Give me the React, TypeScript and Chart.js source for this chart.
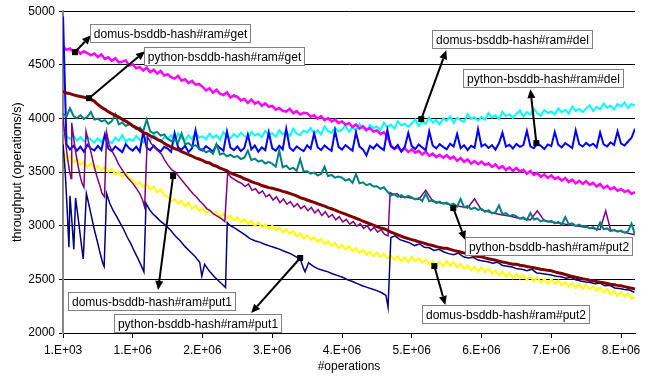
import React, { useEffect, useRef } from 'react';
import { Chart, registerables } from 'chart.js';

Chart.register(...registerables);

// #operations, in millions (first category is 1.E+03)
const OPS = [
  0.001, 0.05, 0.1, 0.15, 0.2, 0.25, 0.3, 0.35, 0.4, 0.45,
  0.5, 0.55, 0.6, 0.65, 0.7, 0.75, 0.8, 0.85, 0.9, 0.95,
  1, 1.05, 1.1, 1.15, 1.2, 1.25, 1.3, 1.35, 1.4, 1.45,
  1.5, 1.55, 1.6, 1.65, 1.7, 1.75, 1.8, 1.85, 1.9, 1.95,
  2, 2.05, 2.1, 2.15, 2.2, 2.25, 2.3, 2.35, 2.4, 2.45,
  2.5, 2.55, 2.6, 2.65, 2.7, 2.75, 2.8, 2.85, 2.9, 2.95,
  3, 3.05, 3.1, 3.15, 3.2, 3.25, 3.3, 3.35, 3.4, 3.45,
  3.5, 3.55, 3.6, 3.65, 3.7, 3.75, 3.8, 3.85, 3.9, 3.95,
  4, 4.05, 4.1, 4.15, 4.2, 4.25, 4.3, 4.35, 4.4, 4.45,
  4.5, 4.55, 4.6, 4.65, 4.7, 4.75, 4.8, 4.85, 4.9, 4.95,
  5, 5.05, 5.1, 5.15, 5.2, 5.25, 5.3, 5.35, 5.4, 5.45,
  5.5, 5.55, 5.6, 5.65, 5.7, 5.75, 5.8, 5.85, 5.9, 5.95,
  6, 6.05, 6.1, 6.15, 6.2, 6.25, 6.3, 6.35, 6.4, 6.45,
  6.5, 6.55, 6.6, 6.65, 6.7, 6.75, 6.8, 6.85, 6.9, 6.95,
  7, 7.05, 7.1, 7.15, 7.2, 7.25, 7.3, 7.35, 7.4, 7.45,
  7.5, 7.55, 7.6, 7.65, 7.7, 7.75, 7.8, 7.85, 7.9, 7.95,
  8, 8.05, 8.1, 8.15, 8.2,
];

const X_TICKS = [0.001, 1, 2, 3, 4, 5, 6, 7, 8];
const X_MIN = 0;
const X_MAX = 8.2;
const Y_MIN = 2000;
const Y_MAX = 5000;
const Y_STEP = 500;

// domus-bsddb-hash#ram#get (magenta)
const DOMUS_GET = [
  4668, 4640, 4652, 4618, 4641, 4603, 4626, 4610, 4588, 4606,
  4572, 4596, 4555, 4570, 4538, 4561, 4522, 4530, 4541, 4494,
  4503, 4468, 4481, 4447, 4475, 4430, 4455, 4419, 4442, 4400,
  4412, 4385, 4371, 4398, 4352, 4366, 4330, 4351, 4315, 4322,
  4296, 4262, 4281, 4240, 4268, 4231, 4219, 4243, 4195, 4214,
  4201, 4168, 4182, 4145, 4177, 4139, 4156, 4118, 4140, 4109,
  4118, 4082, 4097, 4071, 4063, 4090, 4048, 4069, 4036, 4052,
  4050, 4018, 4031, 3998, 4022, 3985, 4004, 3972, 3990, 3958,
  3972, 3941, 3958, 3920, 3944, 3905, 3928, 3893, 3910, 3878,
  3888, 3856, 3872, 3832, 3750, 3716, 3734, 3698, 3722, 3686,
  3712, 3681, 3698, 3664, 3690, 3651, 3672, 3640, 3661, 3634,
  3658, 3626, 3644, 3605, 3632, 3596, 3618, 3580, 3603, 3574,
  3598, 3566, 3582, 3548, 3571, 3535, 3556, 3520, 3544, 3510,
  3538, 3506, 3522, 3485, 3510, 3474, 3493, 3455, 3478, 3446,
  3470, 3436, 3452, 3420, 3446, 3408, 3430, 3396, 3418, 3390,
  3416, 3382, 3401, 3365, 3389, 3350, 3372, 3340, 3358, 3326,
  3342, 3316, 3328, 3298, 3312,
];

// domus-bsddb-hash#ram#del (cyan)
const DOMUS_DEL = [
  3880, 3835, 3810, 3842, 3795, 3825, 3788, 3830, 3802, 3776,
  3815, 3780, 3830, 3795, 3768, 3822, 3790, 3845, 3782, 3810,
  3790, 3835, 3802, 3776, 3828, 3795, 3850, 3808, 3783, 3826,
  3812, 3845, 3790, 3860, 3815, 3798, 3842, 3805, 3870, 3822,
  3836, 3805, 3858, 3820, 3845, 3800, 3872, 3830, 3815, 3855,
  3825, 3868, 3838, 3812, 3875, 3842, 3860, 3825, 3885, 3848,
  3862, 3830, 3890, 3852, 3875, 3838, 3905, 3860, 3845, 3888,
  3870, 3912, 3858, 3890, 3850, 3925, 3882, 3866, 3915, 3878,
  3898, 3935, 3875, 3920, 3888, 3950, 3905, 3882, 3938, 3910,
  3925, 3890, 3960, 3918, 3942, 3905, 3975, 3935, 3952, 3920,
  3955, 3990, 3930, 3972, 3948, 4010, 3962, 3985, 3945, 4002,
  3978, 4020, 3960, 4005, 3985, 3968, 4040, 3995, 4012, 3980,
  4015, 3988, 4050, 4008, 4030, 3995, 4062, 4022, 4040, 4005,
  4042, 4075, 4018, 4060, 4035, 4090, 4048, 4025, 4078, 4052,
  4065, 4038, 4095, 4058, 4080, 4045, 4110, 4070, 4088, 4060,
  4092, 4125, 4070, 4108, 4085, 4140, 4098, 4120, 4082, 4135,
  4112, 4150, 4098, 4135, 4118,
];

// python-bsddb-hash#ram#del (blue)
const PYTHON_DEL = [
  4950, 3760, 3712, 3745, 3700, 3738, 3690, 3755, 3720, 3702,
  3745, 3706, 3850, 3718, 3695, 3740, 3712, 3686, 3760, 3722,
  3700, 3738, 3690, 3875, 3725, 3705, 3748, 3714, 3692, 3736,
  3720, 3690, 3862, 3730, 3708, 3745, 3686, 3722, 3890, 3715,
  3702, 3742, 3718, 3690, 3756, 3725, 3700, 3880, 3728, 3705,
  3740, 3696, 3725, 3850, 3712, 3748, 3690, 3730, 3705, 3872,
  3722, 3700, 3745, 3712, 3905, 3728, 3698, 3740, 3715, 3695,
  3750, 3718, 3860, 3732, 3705, 3748, 3720, 3698, 3885, 3735,
  3710, 3752, 3725, 3700, 3870, 3738, 3712, 3655, 3745, 3720,
  3760, 3728, 3705, 3892, 3740, 3718, 3752, 3690, 3735, 3865,
  3742, 3715, 3758, 3730, 3705, 3880, 3748, 3722, 3760, 3735,
  3712, 3765, 3738, 3855, 3722, 3750, 3705, 3745, 3728, 3900,
  3740, 3760, 3725, 3752, 3710, 3768, 3868, 3738, 3755, 3720,
  3762, 3735, 3752, 3885, 3740, 3722, 3768, 3745, 3715, 3758,
  3742, 3875, 3756, 3730, 3770, 3748, 3725, 3890, 3760, 3738,
  3772, 3745, 3765, 3730, 3870, 3758, 3740, 3778, 3752, 3880,
  3765, 3748, 3785, 3820, 3905,
];

// python-bsddb-hash#ram#put2 (teal)
const PYTHON_PUT2 = [
  4045, 4018, 4095, 4025, 4002, 4030, 3995, 4015, 4060, 3990,
  3998, 3972, 3985, 3950, 3975, 4040, 3945, 3962, 3930, 3948,
  3925, 3900, 3915, 3880, 3990, 3878, 3862, 3875, 3840, 3852,
  3812, 3790, 3805, 3775, 3860, 3760, 3770, 3738, 3752, 3720,
  3712, 3685, 3698, 3670, 3760, 3665, 3675, 3648, 3662, 3640,
  3650, 3622, 3635, 3700, 3612, 3625, 3598, 3610, 3580, 3595,
  3578, 3550, 3700, 3545, 3560, 3528, 3540, 3512, 3620, 3505,
  3508, 3485, 3495, 3470, 3482, 3550, 3462, 3474, 3448, 3458,
  3448, 3420, 3435, 3400, 3480, 3395, 3405, 3378, 3390, 3365,
  3368, 3345, 3360, 3318, 3282, 3295, 3270, 3285, 3262, 3278,
  3265, 3245, 3258, 3230, 3300, 3228, 3238, 3212, 3225, 3205,
  3215, 3192, 3205, 3178, 3250, 3172, 3182, 3155, 3168, 3148,
  3158, 3130, 3145, 3115, 3125, 3190, 3108, 3118, 3090, 3102,
  3088, 3065, 3078, 3052, 3120, 3058, 3068, 3040, 3052, 3038,
  3045, 3022, 3035, 3010, 3080, 3015, 3022, 2998, 3010, 2992,
  2998, 2975, 2988, 2962, 3030, 2968, 2975, 2950, 2962, 2945,
  2955, 2935, 2948, 3020, 2915,
];

// python-bsddb-hash#ram#get (dark red)
const PYTHON_GET = [
  4252, 4238, 4232, 4220, 4212, 4205, 4198, 4190, 4180, 4160,
  4130, 4105, 4085, 4062, 4045, 4028, 4012, 3992, 3975, 3955,
  3932, 3915, 3892, 3868, 3858, 3838, 3825, 3805, 3792, 3770,
  3748, 3735, 3718, 3708, 3690, 3678, 3662, 3650, 3632, 3622,
  3610, 3592, 3585, 3565, 3555, 3538, 3525, 3512, 3492, 3480,
  3468, 3455, 3438, 3428, 3412, 3400, 3390, 3375, 3366, 3355,
  3350, 3340, 3332, 3320, 3312, 3302, 3290, 3278, 3262, 3252,
  3240, 3228, 3218, 3205, 3195, 3182, 3168, 3158, 3145, 3132,
  3120, 3108, 3095, 3082, 3070, 3058, 3042, 3030, 3018, 3005,
  2992, 2980, 2972, 2958, 2940, 2928, 2915, 2902, 2890, 2880,
  2870, 2862, 2850, 2842, 2832, 2822, 2815, 2805, 2798, 2790,
  2790, 2780, 2770, 2762, 2755, 2745, 2738, 2728, 2720, 2712,
  2710, 2700, 2692, 2686, 2678, 2670, 2662, 2656, 2648, 2642,
  2640, 2632, 2628, 2620, 2614, 2608, 2602, 2595, 2590, 2584,
  2580, 2570, 2562, 2555, 2545, 2536, 2528, 2520, 2512, 2505,
  2500, 2492, 2488, 2480, 2474, 2468, 2462, 2455, 2450, 2444,
  2440, 2432, 2425, 2418, 2410,
];

// domus-bsddb-hash#ram#put2 (yellow)
const DOMUS_PUT2 = [
  3700, 3610, 3655, 3590, 3625, 3570, 3598, 3545, 3585, 3530,
  3560, 3515, 3548, 3500, 3530, 3478, 3505, 3455, 3490, 3442,
  3425, 3382, 3410, 3360, 3390, 3335, 3365, 3312, 3340, 3285,
  3272, 3228, 3250, 3205, 3232, 3180, 3215, 3158, 3190, 3140,
  3162, 3118, 3145, 3100, 3128, 3082, 3110, 3065, 3095, 3048,
  3078, 3032, 3062, 3015, 3048, 3000, 3030, 2985, 3012, 2968,
  3002, 2958, 2985, 2940, 2968, 2922, 2950, 2898, 2930, 2880,
  2912, 2868, 2895, 2848, 2878, 2830, 2858, 2812, 2840, 2790,
  2822, 2778, 2808, 2762, 2790, 2745, 2775, 2730, 2760, 2715,
  2752, 2708, 2738, 2695, 2722, 2680, 2715, 2668, 2705, 2660,
  2712, 2668, 2698, 2652, 2685, 2640, 2672, 2628, 2662, 2620,
  2672, 2628, 2660, 2612, 2645, 2598, 2632, 2585, 2618, 2570,
  2612, 2568, 2600, 2552, 2585, 2538, 2572, 2525, 2560, 2512,
  2552, 2508, 2540, 2495, 2528, 2482, 2518, 2470, 2505, 2460,
  2502, 2458, 2490, 2445, 2478, 2432, 2468, 2420, 2455, 2410,
  2452, 2408, 2438, 2392, 2425, 2378, 2410, 2362, 2395, 2345,
  2382, 2338, 2368, 2320, 2335,
];

// python-bsddb-hash#ram#put1 (navy): [#operations (millions), throughput]
const PYTHON_PUT1: [number, number][] = [
  [0.001, 3760], [0.03, 3520], [0.06, 3150], [0.085, 2800], [0.1, 3280], [0.13, 3020],
  [0.155, 2780], [0.18, 3260], [0.21, 3110], [0.24, 2950], [0.27, 2790], [0.29, 2690],
  [0.335, 3300], [0.37, 3200], [0.41, 3080], [0.45, 2960], [0.49, 2860], [0.53, 2750],
  [0.57, 2650], [0.59, 2620], [0.625, 3300], [0.67, 3210], [0.72, 3140], [0.77, 3085],
  [0.82, 3025], [0.87, 2965], [0.92, 2895], [0.97, 2835], [1.02, 2765], [1.07, 2700],
  [1.12, 2630], [1.16, 2570], [1.19, 3210], [1.24, 3150], [1.29, 3110], [1.34, 3080],
  [1.4, 3040], [1.46, 3010], [1.54, 2960], [1.61, 2905], [1.68, 2860], [1.75, 2805],
  [1.82, 2760], [1.89, 2715], [1.96, 2660], [1.99, 2530], [2.03, 2640], [2.1, 2575],
  [2.17, 2525], [2.24, 2480], [2.29, 2450], [2.33, 2425], [2.355, 3030], [2.4, 3000],
  [2.47, 2975], [2.54, 2945], [2.61, 2915], [2.68, 2880], [2.75, 2860], [2.83, 2845],
  [2.9, 2825], [2.97, 2810], [3.04, 2795], [3.11, 2780], [3.18, 2760], [3.26, 2740],
  [3.33, 2715], [3.4, 2690], [3.45, 2600], [3.47, 2570], [3.52, 2655], [3.58, 2625],
  [3.65, 2600], [3.72, 2585], [3.8, 2570], [3.87, 2550], [3.94, 2535], [4.01, 2520],
  [4.08, 2495], [4.15, 2480], [4.22, 2460], [4.29, 2440], [4.36, 2425], [4.43, 2410],
  [4.5, 2395], [4.57, 2375], [4.63, 2350], [4.66, 2240], [4.7, 2890], [4.76, 2905],
  [4.83, 2870], [4.9, 2855], [4.97, 2840], [5.04, 2815], [5.11, 2830], [5.18, 2800],
  [5.25, 2795], [5.32, 2770], [5.39, 2780], [5.46, 2755], [5.53, 2740], [5.6, 2730],
  [5.67, 2745], [5.74, 2710], [5.81, 2700], [5.88, 2705], [5.95, 2680], [6.02, 2672],
  [6.09, 2665], [6.16, 2650], [6.23, 2660], [6.3, 2630], [6.37, 2622], [6.44, 2615],
  [6.51, 2598], [6.58, 2595], [6.65, 2580], [6.72, 2595], [6.79, 2560], [6.86, 2555],
  [6.93, 2548], [7.0, 2540], [7.07, 2530], [7.14, 2525], [7.21, 2510], [7.28, 2520],
  [7.35, 2495], [7.42, 2485], [7.49, 2475], [7.56, 2470], [7.63, 2460], [7.7, 2465],
  [7.77, 2440], [7.84, 2445], [7.91, 2420], [7.98, 2415], [8.05, 2405], [8.12, 2400],
  [8.19, 2380],
];

// domus-bsddb-hash#ram#put1 (purple): [#operations (millions), throughput]
const DOMUS_PUT1: [number, number][] = [
  [0.001, 4010], [0.03, 3820], [0.06, 3650], [0.09, 3520], [0.115, 3440], [0.125, 3960],
  [0.15, 3830], [0.18, 3690], [0.21, 3580], [0.24, 3480], [0.27, 3400], [0.3, 3360],
  [0.33, 3880], [0.37, 3770], [0.41, 3660], [0.45, 3545], [0.49, 3450], [0.53, 3370],
  [0.56, 3300], [0.595, 3270], [0.625, 3870], [0.66, 3760], [0.7, 3700], [0.75, 3640],
  [0.8, 3570], [0.85, 3520], [0.9, 3470], [0.95, 3430], [1.0, 3395], [1.05, 3350],
  [1.1, 3300], [1.14, 3240], [1.17, 3175], [1.21, 3830], [1.26, 3770], [1.31, 3730],
  [1.36, 3700], [1.41, 3670], [1.46, 3610], [1.51, 3560], [1.56, 3520], [1.61, 3500],
  [1.66, 3460], [1.71, 3420], [1.76, 3380], [1.81, 3340], [1.86, 3300], [1.91, 3270],
  [1.96, 3230], [2.01, 3200], [2.06, 3160], [2.11, 3140], [2.16, 3110], [2.21, 3090],
  [2.26, 3070], [2.32, 3040], [2.36, 3490], [2.41, 3450], [2.46, 3430], [2.51, 3410],
  [2.56, 3395], [2.61, 3365], [2.66, 3390], [2.71, 3330], [2.76, 3345], [2.81, 3300],
  [2.86, 3325], [2.91, 3270], [2.96, 3290], [3.01, 3240], [3.06, 3270], [3.11, 3215],
  [3.16, 3250], [3.21, 3200], [3.26, 3225], [3.31, 3175], [3.36, 3205], [3.41, 3160],
  [3.46, 3185], [3.51, 3140], [3.56, 3170], [3.61, 3120], [3.66, 3150], [3.71, 3095],
  [3.76, 3130], [3.81, 3080], [3.86, 3105], [3.91, 3055], [3.96, 3085], [4.01, 3035],
  [4.06, 3060], [4.11, 3015], [4.16, 3040], [4.21, 2995], [4.26, 3020], [4.31, 2975],
  [4.36, 3000], [4.41, 2955], [4.46, 2985], [4.51, 2940], [4.56, 2965], [4.61, 2920],
  [4.66, 2905], [4.69, 3310], [4.74, 3290], [4.79, 3300], [4.84, 3265], [4.9, 3270],
  [5.0, 3255], [5.1, 3245], [5.2, 3330], [5.3, 3230], [5.4, 3215], [5.5, 3205],
  [5.6, 3190], [5.7, 3180], [5.8, 3165], [5.9, 3250], [6.0, 3145], [6.1, 3130],
  [6.2, 3115], [6.3, 3100], [6.4, 3090], [6.5, 3075], [6.6, 3065], [6.7, 3055],
  [6.8, 3140], [6.9, 3045], [7.0, 3035], [7.1, 3025], [7.2, 3015], [7.3, 3005],
  [7.4, 2995], [7.5, 2985], [7.6, 2975], [7.7, 2965], [7.78, 3140], [7.85, 2960],
  [7.9, 2955], [8.0, 2945], [8.1, 2930], [8.2, 2915],
];

// Callout labels: box centre, data end (square) and arrow end, in data units
const CALLOUTS = [
  { text: 'domus-bsddb-hash#ram#get', box: [1.542, 4790], from: [0.172, 4618], to: [0.402, 4776] },
  { text: 'python-bsddb-hash#ram#get', box: [2.317, 4581], from: [0.373, 4189], to: [1.176, 4627] },
  { text: 'domus-bsddb-hash#ram#del', box: [6.449, 4734], from: [5.136, 3994], to: [5.495, 4637] },
  { text: 'python-bsddb-hash#ram#del', box: [6.894, 4371], from: [6.786, 3770], to: [6.7, 4273] },
  { text: 'python-bsddb-hash#ram#put2', box: [6.973, 2811], from: [5.595, 3165], to: [5.767, 2866] },
  { text: 'domus-bsddb-hash#ram#put2', box: [6.349, 2168], from: [5.323, 2624], to: [5.481, 2261] },
  { text: 'domus-bsddb-hash#ram#put1', box: [1.277, 2298], from: [1.578, 3463], to: [1.363, 2401] },
  { text: 'python-bsddb-hash#ram#put1', box: [1.937, 2093], from: [3.4, 2699], to: [2.697, 2186] },
];

const FONT = '"Liberation Sans", Arial, Helvetica, sans-serif';

function fmtOps(m: number): string {
  const n = Math.round(m * 1e6);
  const exp = Math.floor(Math.log10(n));
  const mant = Math.round(n / Math.pow(10, exp));
  return `${mant}.E+${String(exp).padStart(2, '0')}`;
}

const calloutPlugin = {
  id: 'callouts',
  afterDraw(chart: any) {
    const { ctx } = chart;
    const xs = chart.scales.x;
    const ys = chart.scales.y;
    ctx.save();
    ctx.strokeStyle = '#000';
    ctx.fillStyle = '#000';
    ctx.lineWidth = 2;
    for (const c of CALLOUTS) {
      const fx = xs.getPixelForValue(c.from[0]);
      const fy = ys.getPixelForValue(c.from[1]);
      const tx = xs.getPixelForValue(c.to[0]);
      const ty = ys.getPixelForValue(c.to[1]);
      const ang = Math.atan2(ty - fy, tx - fx);
      const headLen = 9;
      const headW = 4;
      const bx = tx - headLen * Math.cos(ang);
      const by = ty - headLen * Math.sin(ang);
      ctx.beginPath();
      ctx.moveTo(fx, fy);
      ctx.lineTo(bx, by);
      ctx.stroke();
      ctx.beginPath();
      ctx.moveTo(tx, ty);
      ctx.lineTo(bx + headW * Math.sin(ang), by - headW * Math.cos(ang));
      ctx.lineTo(bx - headW * Math.sin(ang), by + headW * Math.cos(ang));
      ctx.closePath();
      ctx.fill();
      ctx.fillRect(fx - 3, fy - 3, 6, 6);
    }
    ctx.font = `12px ${FONT}`;
    ctx.textAlign = 'center';
    ctx.textBaseline = 'middle';
    ctx.lineWidth = 1;
    for (const c of CALLOUTS) {
      const cx = xs.getPixelForValue(c.box[0]);
      const cy = ys.getPixelForValue(c.box[1]);
      const w = Math.round(ctx.measureText(c.text).width + 8);
      const h = 19;
      const left = Math.round(cx - w / 2);
      const top = Math.round(cy - h / 2);
      ctx.fillStyle = '#fff';
      ctx.fillRect(left, top, w, h);
      ctx.strokeStyle = '#808080';
      ctx.strokeRect(left + 0.5, top + 0.5, w - 1, h - 1);
      ctx.fillStyle = '#000';
      ctx.fillText(c.text, left + w / 2, top + h / 2 + 1);
    }
    ctx.restore();
  },
};

function gridSeries(values: number[]) {
  return OPS.map((x, i) => ({ x, y: values[i] }));
}
function pairSeries(pairs: [number, number][]) {
  return pairs.map(([x, y]) => ({ x, y }));
}

export default function App() {
  const ref = useRef<HTMLCanvasElement | null>(null);

  useEffect(() => {
    if (!ref.current) return;
    const line = (label: string, data: any[], color: string, width: number) => ({
      label,
      data,
      borderColor: color,
      backgroundColor: color,
      borderWidth: width,
      pointRadius: 0,
      tension: 0,
      fill: false,
    });
    const chart = new Chart(ref.current, {
      type: 'line',
      data: {
        datasets: [
          line('python-bsddb-hash#ram#get', gridSeries(PYTHON_GET), '#800000', 3),
          line('python-bsddb-hash#ram#put2', gridSeries(PYTHON_PUT2), '#008080', 2),
          line('python-bsddb-hash#ram#put1', pairSeries(PYTHON_PUT1), '#000080', 1.5),
          line('domus-bsddb-hash#ram#put1', pairSeries(DOMUS_PUT1), '#800080', 1.5),
          line('python-bsddb-hash#ram#del', gridSeries(PYTHON_DEL), '#0000FF', 2),
          line('domus-bsddb-hash#ram#get', gridSeries(DOMUS_GET), '#FF00FF', 2.5),
          line('domus-bsddb-hash#ram#del', gridSeries(DOMUS_DEL), '#00FFFF', 2),
          line('domus-bsddb-hash#ram#put2', gridSeries(DOMUS_PUT2), '#FFFF00', 2),
        ],
      },
      options: {
        responsive: false,
        animation: false,
        devicePixelRatio: 1,
        layout: { padding: { left: 0, right: 15, top: 11, bottom: 0 } },
        plugins: { legend: { display: false }, tooltip: { enabled: false } },
        scales: {
          x: {
            type: 'linear',
            min: X_MIN,
            max: X_MAX,
            afterBuildTicks: (s: any) => {
              s.ticks = X_TICKS.map((v) => ({ value: v }));
            },
            afterFit: (s: any) => {
              s.height = 44;
            },
            ticks: {
              autoSkip: false,
              maxRotation: 0,
              color: '#000',
              padding: 5,
              font: { family: FONT, size: 12 },
              callback: (v: any) => fmtOps(Number(v)),
            },
            grid: { drawOnChartArea: false, drawTicks: true, tickLength: 5, color: '#000' },
            border: { color: '#000', width: 1 },
            title: {
              display: true,
              text: '#operations',
              color: '#000',
              font: { family: FONT, size: 12 },
              padding: { top: 0, bottom: 3 },
            },
          },
          y: {
            min: Y_MIN,
            max: Y_MAX,
            afterFit: (s: any) => {
              s.width = 63;
            },
            ticks: {
              stepSize: Y_STEP,
              color: '#000',
              padding: 4,
              font: { family: FONT, size: 12 },
              callback: (v: any) => String(v),
            },
            grid: { color: '#000', lineWidth: 1, tickLength: 4 },
            border: { color: '#888', width: 2 },
            title: {
              display: true,
              text: 'throughput (operations/s)',
              color: '#000',
              font: { family: FONT, size: 12.5 },
              padding: { top: 10, bottom: 0 },
            },
          },
        },
      },
      plugins: [calloutPlugin],
    } as any);
    return () => chart.destroy();
  }, []);

  return (
    <div style={{ position: 'absolute', left: 0, top: 0, width: 650, height: 377, background: '#fff' }}>
      <canvas ref={ref} width={650} height={377} />
    </div>
  );
}
